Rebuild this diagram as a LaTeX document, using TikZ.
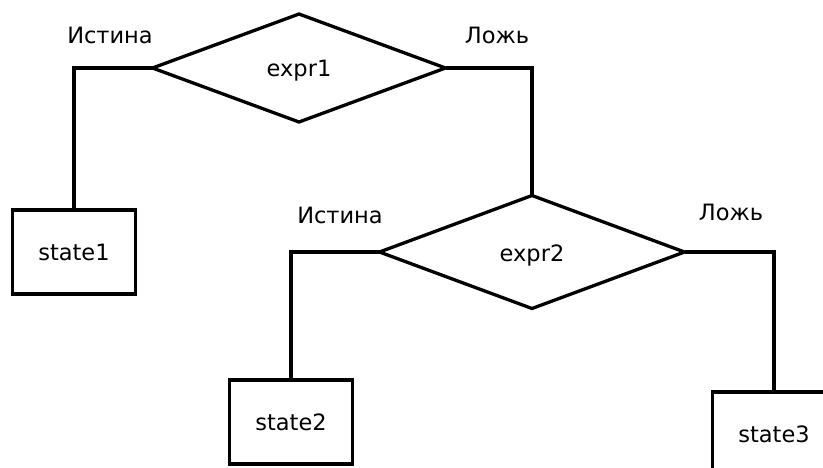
\documentclass[tikz,border=0pt]{standalone}
\usepackage{fontspec}
\setmainfont{DejaVu Sans}
\usetikzlibrary{shapes.geometric}
\begin{document}
\begin{tikzpicture}[x=1pt,y=-1pt,
  every node/.style={font=\fontsize{22.5}{26}\selectfont},
  cond/.style={draw,diamond,line width=3.3pt,inner sep=0pt,outer sep=0pt},
  stbox/.style={draw,rectangle,line width=3.3pt,inner sep=0pt,outer sep=0pt,minimum width=123pt,minimum height=84pt},
  conn/.style={line width=3.3pt},
  lbl/.style={inner sep=0pt}]
\fill[white] (0,0) rectangle (823,467);
\useasboundingbox (0,0) rectangle (823,467);
\clip (0,0) rectangle (823,467);
\node[cond,minimum width=293pt,minimum height=108pt] (d1) at (299,68) {};
\node at (299,71) (t1) {expr1};
\node[cond,minimum width=305pt,minimum height=113pt] (d2) at (532,252) {};
\node at (532,255) (t2) {expr2};
\node[stbox] (s1) at (74,252) {state1};
\node[stbox] (s2) at (291,422) {state2};
\node[stbox] (s3) at (774,434) {state3};
\node[lbl] (l1) at (110,35) {Истина};
\node[lbl] (l2) at (497,35) {Ложь};
\node[lbl] (l3) at (340,215) {Истина};
\node[lbl] (l4) at (731,212) {Ложь};
\draw[conn] (d1.west) -| (s1.north);
\draw[conn] (d1.east) -| (d2.north);
\draw[conn] (d2.west) -| (s2.north);
\draw[conn] (d2.east) -| (s3.north);
\end{tikzpicture}
\end{document}
